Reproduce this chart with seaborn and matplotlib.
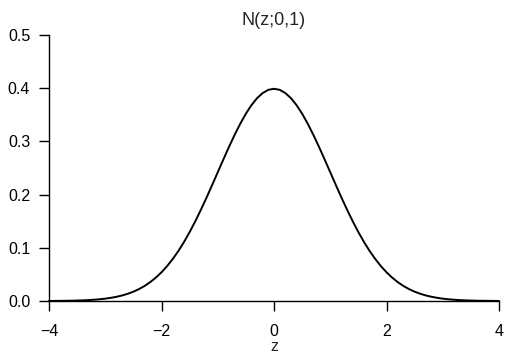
import matplotlib
matplotlib.use("Agg")
import matplotlib.pyplot as plt
import seaborn as sns
import pandas as pd

sns.set_style("ticks")
plt.rcParams['font.family'] = ['Liberation Sans', 'DejaVu Sans']

half = [0.3989, 0.3970, 0.3910, 0.3814, 0.3683, 0.3521, 0.3332, 0.3123, 0.2897, 0.2661,
        0.2420, 0.2179, 0.1942, 0.1714, 0.1497, 0.1295, 0.1109, 0.0940, 0.0790, 0.0656,
        0.0540, 0.0440, 0.0355, 0.0283, 0.0224, 0.0175, 0.0136, 0.0104, 0.0079, 0.0060,
        0.0044, 0.0033, 0.0024, 0.0017, 0.0012, 0.0009, 0.0006, 0.0004, 0.0003, 0.0002,
        0.0001]
density = half[:0:-1] + half
z = [round(-4 + 0.1 * i, 1) for i in range(81)]
xticks = [-4, -2, 0, 2, 4]
xticklabels = ["\u22124", "\u22122", "0", "2", "4"]
yticks = [0.0, 0.1, 0.2, 0.3, 0.4, 0.5]
yticklabels = ["0.0", "0.1", "0.2", "0.3", "0.4", "0.5"]

df = pd.DataFrame({"z": z, "density": density})

fig = plt.figure(figsize=(5.05, 3.58), dpi=100)
ax = fig.add_axes([49/505, 57/358, 450/505, 266/358])
sns.lineplot(data=df, x="z", y="density", ax=ax, color="black", linewidth=1.4)
ax.set_xlim(-4, 4)
ax.set_ylim(0, 0.5)
ax.set_xticks(xticks)
ax.set_xticklabels(xticklabels)
ax.set_yticks(yticks)
ax.set_yticklabels(yticklabels)
for s in ["top", "right"]:
    ax.spines[s].set_visible(False)
for s in ["left", "bottom"]:
    ax.spines[s].set_linewidth(1.0)
    ax.spines[s].set_color("black")
ax.tick_params(axis="both", direction="out", length=7.5, width=1.0, colors="black",
               labelsize=11.5)
ax.tick_params(axis="x", pad=9)
ax.tick_params(axis="y", pad=6)
ax.set_xlabel("z", fontsize=11.5, labelpad=0)
ax.set_ylabel("")
ax.set_title("N(z;0,1)", fontsize=13, pad=7)
for line in ax.lines:
    line.set_clip_on(False)
fig.savefig("out.png", dpi=100)
